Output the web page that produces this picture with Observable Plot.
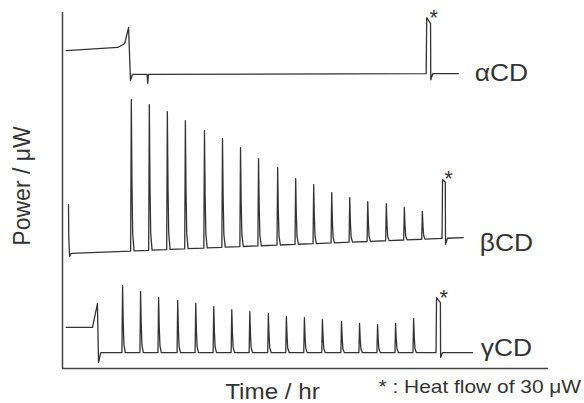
<!DOCTYPE html>
<html>
<head>
<meta charset="utf-8">
<script src="https://cdn.jsdelivr.net/npm/d3@7"></script>
<script src="https://cdn.jsdelivr.net/npm/@observablehq/plot@0.6"></script>
<style>
  body { margin: 0; background: #fff; }
  #chart { width: 584px; height: 403px; }
</style>
</head>
<body>
<div id="chart"></div>
<script>
// Titration traces for the three cyclodextrins, stacked with an offset (μW)
const series = ["αCD", "βCD", "γCD"];
const baseStart = [154.7, 60.5, 8.4];   // baseline at run start (μW)
const baseEnd = [155.2, 68.9, 8.4];     // baseline at run end (μW)
const runStart = [0.07, 0.11, 0.07];    // hr
const runEnd = [7.25, 7.34, 7.51];      // hr

// Injection peaks: times (hr) and heights above baseline (μW)
const betaTimes = [1.26, 1.59, 1.92, 2.25, 2.60, 2.93, 3.26, 3.59, 3.94, 4.27, 4.60, 4.93, 5.26, 5.59, 5.93, 6.26, 6.59];
const betaPeaks = [79.7, 76.7, 72.6, 67.5, 61.8, 57.3, 52.1, 45.9, 40.8, 34.6, 31.1, 26.5, 23.5, 21.0, 19.5, 17.1, 14.6];
const gammaTimes = [1.10, 1.43, 1.76, 2.11, 2.44, 2.77, 3.10, 3.43, 3.77, 4.10, 4.43, 4.76, 5.11, 5.44, 5.77, 6.10, 6.43];
const gammaPeaks = [35.3, 32.1, 28.9, 27.4, 25.8, 24.2, 22.6, 21.6, 20.5, 18.9, 18.4, 17.4, 16.3, 15.3, 14.7, 15.3, 17.9];

// Calibration pulse (heat flow of 30 μW) for each trace
const pulseOn = [6.67, 6.96, 6.85];
const pulseOff = [6.74, 7.01, 6.92];
const pulseTop = [29.5, 31.0, 28.9];
const pulseTopEnd = [26.3, 29.5, 26.3];
const pulseUndershoot = [-3.2, -3.2, -2.6];

// Opening segments before the titration: [hr, μW above baseline]
const alphaLead = [[0.07, 12.6], [1.01, 14.2], [1.14, 16.3], [1.21, 24.7], [1.245, -3.2], [1.28, 0], [1.55, 0], [1.56, -4.7], [1.575, 0]];
const betaLead = [[0.11, 25.8], [0.115, 8], [0.13, -1.5], [0.16, 0]];
const gammaLead = [[0.07, 13.2], [0.55, 13.2], [0.64, 25.8], [0.66, -5.3], [0.70, 0]];

// Where the series names sit: time (hr) and height relative to the end baseline (μW)
const labelT = [7.55, 7.64, 7.66];
const labelShift = [0, -3, 2];

const leads = [alphaLead, betaLead, gammaLead];
const injections = [[[], []], [betaTimes, betaPeaks], [gammaTimes, gammaPeaks]];

function baseline(i, t) {
  return baseStart[i] + (baseEnd[i] - baseStart[i]) * (t - runStart[i]) / (runEnd[i] - runStart[i]);
}

function peakRows(t, h) {
  return [[t - 0.012, 0], [t, h], [t + 0.012, 0.45 * h], [t + 0.025, 0.12 * h], [t + 0.05, 0]];
}

const traces = [];
series.forEach((name, i) => {
  let rows = leads[i].slice();
  const [times, peaks] = injections[i];
  times.forEach((t, k) => { rows = rows.concat(peakRows(t, peaks[k])); });
  rows.push(
    [pulseOn[i] - 0.01, 0], [pulseOn[i], pulseTop[i]], [pulseOff[i], pulseTopEnd[i]],
    [pulseOff[i] + 0.004, pulseUndershoot[i]], [pulseOff[i] + 0.04, 0], [runEnd[i], 0]
  );
  rows.sort((a, b) => a[0] - b[0]);
  for (const [t, v] of rows) traces.push({series: name, t, power: baseline(i, t) + v});
});

const labelRows = series.map((name, i) => ({name, t: labelT[i], power: baseEnd[i] + labelShift[i]}));
// Asterisks flag the calibration pulses
const starRows = series.map((name, i) => ({t: pulseOff[i], power: baseline(i, pulseOff[i]) + pulseTop[i]}));

const font = "'Liberation Sans', Arial, sans-serif";
const ink = "#333";

const chart = Plot.plot({
  width: 584,
  height: 403,
  marginLeft: 62,
  marginRight: 36,
  marginTop: 7,
  marginBottom: 35,
  style: {fontFamily: font, background: "#fff"},
  x: {domain: [0, 8.9], axis: null},
  y: {domain: [0, 190], axis: null},
  marks: [
    Plot.ruleX([0], {y1: 0, y2: 187.4, stroke: "#444", strokeWidth: 1.5}),
    Plot.ruleY([0], {x1: 0, x2: 8.9, stroke: "#444", strokeWidth: 1.5}),
    Plot.line(traces, {x: "t", y: "power", z: "series", stroke: ink, strokeWidth: 1.3, curve: "linear"}),
    Plot.text(labelRows, {x: "t", y: "power", text: "name", textAnchor: "start", fontSize: 24, fill: "#333"}),
    Plot.text(starRows, {x: "t", y: "power", text: () => "*", textAnchor: "start", fontSize: 22, fill: "#333", dx: -1, dy: 0}),
    Plot.text(["Power / μW"], {frameAnchor: "left", text: d => d, rotate: -90, textAnchor: "middle", lineAnchor: "middle", dx: -40, dy: -2, fontSize: 23, fill: "#333"}),
    Plot.text(["Time / hr"], {frameAnchor: "bottom", text: d => d, textAnchor: "middle", lineAnchor: "bottom", dx: -33, dy: 30, fontSize: 22, fill: "#333"}),
    Plot.text(["* : Heat flow of 30 μW"], {frameAnchor: "bottom-left", text: d => d, textAnchor: "start", lineAnchor: "bottom", dx: 316, dy: 24, fontSize: 19, fill: "#333"})
  ]
});

document.getElementById("chart").appendChild(chart);

// The lettering of this figure is slightly wide; stretch horizontal text a little
d3.select(chart).selectAll("text").each(function () {
  const s = this.textContent;
  if (s === "*" || s === "Power / μW") return;
  const w = this.getComputedTextLength();
  this.setAttribute("textLength", (w * 1.1).toFixed(1));
  this.setAttribute("lengthAdjust", "spacingAndGlyphs");
});
</script>
</body>
</html>
